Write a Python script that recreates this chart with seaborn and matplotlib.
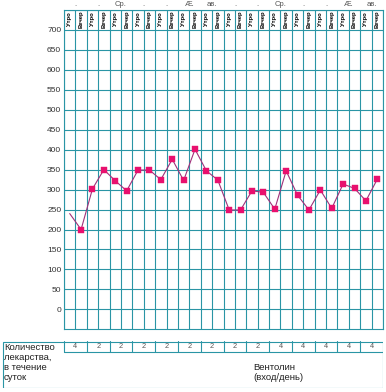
import matplotlib
matplotlib.use("Agg")
import matplotlib.pyplot as plt
import numpy as np
import pandas as pd
import seaborn as sns

# Values (morning / evening peak flow)
slots = ["Утро", "Вечер"] * 14
values = [240, 200, 302, 350, 322, 297, 349, 349, 325, 376, 323, 401, 347, 324,
          249, 249, 297, 293, 251, 347, 286, 249, 299, 253, 314, 303, 272, 326]
day_labels = [".", ".", "Ср.", ".", ".", "Æ.", "ав.",
              ".", ".", "Ср.", ".", ".", "Æ.", "ав."]
doses = [4, 2, 2, 2, 2, 2, 2, 2, 2, 4, 4, 4, 4, 4]
y_ticks = list(range(0, 701, 50))

GRID = "#2A95A5"
MARK = "#E8106E"
LINE = "#A0307A"

sns.set_style("white")
plt.rcParams["font.family"] = ["Liberation Sans", "DejaVu Sans"]

W, H = 386, 392
fig = plt.figure(figsize=(W / 100, H / 100), dpi=100)

# main grid
ax = fig.add_axes([64 / W, 1 - 329.3 / H, (383 - 64) / W, (329.3 - 10) / H])
df = pd.DataFrame({"slot": np.arange(len(values)), "value": values})
sns.lineplot(data=df, x="slot", y="value", color=LINE, linewidth=0.8, ax=ax)
sns.scatterplot(data=df.iloc[1:], x="slot", y="value", color=MARK, marker="s",
                s=15, edgecolor=MARK, linewidth=0.3, ax=ax, zorder=5)

ax.set_xlim(-0.5, len(values) - 0.5)
ax.set_ylim(-50, 750)
ax.set_xticks(np.arange(-0.5, len(values), 1.0))
ax.set_xticklabels([])
ax.set_yticks(y_ticks + [750])
ax.set_yticklabels([str(v) for v in y_ticks] + [""], fontsize=6, color="#333333")
ax.tick_params(length=0, pad=2)
ax.grid(True, color=GRID, linewidth=0.8)
ax.set_axisbelow(True)
for sp in ax.spines.values():
    sp.set_color(GRID)
    sp.set_linewidth(0.8)
ax.set_xlabel("")
ax.set_ylabel("")

# header row with morning/evening labels
for i, s in enumerate(slots):
    ax.text(i, 726, s, rotation=90, ha="center", va="center",
            fontsize=4.2, fontweight="bold", color="black")
for d, lab in enumerate(day_labels):
    ax.text(2 * d + 0.5, 756, lab, ha="center", va="bottom",
            fontsize=5.5, color="#555555", clip_on=False)

# medication table
tx0, tx1, ty0, ty1 = 2, 383, 341, 388
tab = fig.add_axes([tx0 / W, 1 - ty1 / H, (tx1 - tx0) / W, (ty1 - ty0) / H])
tab.set_xlim(tx0, tx1)
tab.set_ylim(ty1, ty0)
tab.axis("off")
tab.add_patch(plt.Rectangle((tx0 + 0.5, ty0 + 0.5), tx1 - tx0 - 1, ty1 - ty0 - 1,
                            fill=False, edgecolor=GRID, linewidth=0.8))
cw = (383 - 64) / len(doses)
row_b = 352
tab.plot([64, tx1], [row_b, row_b], color=GRID, linewidth=0.8)
for k in range(len(doses)):
    xl = 64 + k * cw
    tab.plot([xl, xl], [ty0, row_b], color=GRID, linewidth=0.8)
    tab.text(xl + cw / 2, (ty0 + row_b) / 2 + 0.5, str(doses[k]), ha="center",
             va="center", fontsize=5.3, color="#555555")
tab.text(4, 343, "Количество\nлекарства,\nв течение\nсуток", ha="left", va="top",
         fontsize=6.8, color="#222222", linespacing=1.12)
tab.text(253, 362.5, "Вентолин\n(вход/день)", ha="left", va="top",
         fontsize=6.8, color="#222222", linespacing=1.25)

fig.savefig("out.png", dpi=100)
